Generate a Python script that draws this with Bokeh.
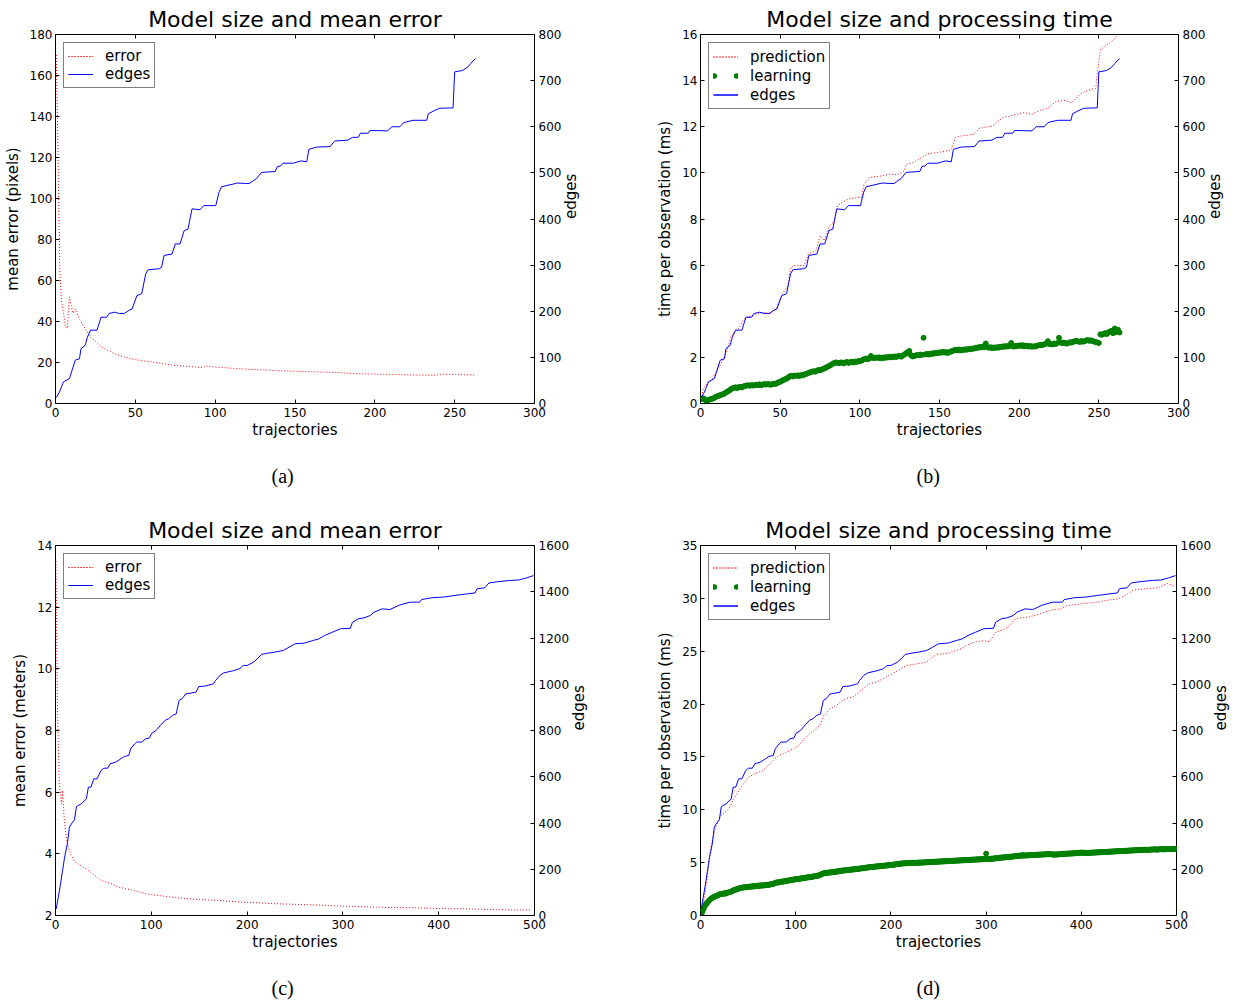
import math
from bokeh.plotting import figure
from bokeh.models import (Range1d, LinearAxis, SingleIntervalTicker, Legend,
                          LegendItem, Title)
from bokeh.layouts import column, row
from bokeh.embed import file_html
from bokeh.resources import INLINE

FONT = "DejaVu Sans"
RED, BLUE, GREEN = "#ff0000", "#0000ff", "#008000"

# ---------------- data ----------------
# (a)/(b): model size (edges) vs trajectories, first data set
edges_ab_x = [0.5, 2.5, 5, 8.7, 10, 12.4, 15, 16, 18.6, 20, 22, 26, 28.5, 32, 33.5, 37, 40, 43, 46, 48,
              51, 54, 56.5, 58, 64.5, 66.4, 68, 73, 75, 78, 80.6, 83, 85.5, 90.5, 91.7, 93, 100.4, 102.4,
              104, 106.6, 114, 119, 121.5, 126, 129, 137.6, 139, 141, 142.5, 149, 153.7, 157.4, 158.7,
              163.6, 172, 174.8, 183, 186, 189.6, 191, 196, 197, 208, 210.7, 215.7, 218, 224, 232.5,
              233.5, 236.7, 240.5, 249, 250, 255, 258, 260, 263]
edges_ab_y = [13, 25, 47, 54, 68, 94, 97, 119, 126, 144, 159, 159, 187, 187, 195, 198, 195, 195, 202, 205,
              234, 238, 281, 290, 292, 295, 321, 324, 346, 346, 375, 378, 422, 420, 425, 429, 429, 458,
              470, 472, 478, 477, 477, 488, 501, 503, 514, 515, 521, 521, 526, 524, 551,
              556, 557, 569, 571, 577, 577, 586, 586, 592, 591, 600, 600, 609, 614, 614,
              628, 634, 640, 641, 719, 722, 729, 737, 748]

error_a_x = [0.5, 1.2, 2, 2.7, 3.7, 5, 6.2, 7.4, 8.7, 10, 11, 12.4, 15, 18.6, 22, 27, 30, 37, 43, 50,
             59.5, 67, 74, 82, 92, 94, 100, 114, 126, 139, 151, 164, 176, 188, 201, 213, 225.6, 238,
             243, 253, 263]
error_a_y = [170, 139, 99, 66, 50, 44, 38, 36.5, 52, 47, 44, 46, 41, 36.5, 32.4, 29, 27, 24.3, 22.7, 21.4,
             20.3, 19.5, 18.6, 18.2, 17.5, 18.3, 17.8, 17.0, 16.5, 16.0, 15.7, 15.4, 15.1, 14.6, 14.3,
             14.1, 13.9, 13.8, 14.3, 14.1, 13.9]

pred_b_x = [0.5, 1.7, 4.2, 6.7, 10.5, 14, 16.7, 19, 21.7, 24, 26.6, 29, 34, 39, 44, 47.8, 51.5, 55, 56.5,
            59, 65, 67.7, 72.7, 75, 77.7, 81, 84, 86, 89, 92.6, 99, 101, 102.6, 106, 113.8, 118.8, 123.7,
            128, 129, 133.7, 138.7, 143.6, 148.6, 157, 160, 163.6, 172, 174.8, 183.5, 189.7, 194.7, 198,
            203, 208, 213, 218, 223, 228, 233, 238, 243, 248, 249.5, 251, 255.7, 259.4, 262]
pred_b_y = [0.07, 0.65, 0.86, 1.0, 1.44, 1.87, 2.3, 2.88, 3.17, 3.24, 3.6, 3.75, 3.82, 3.96, 3.89, 4.18,
            4.76, 5.12, 5.9, 5.98, 5.98, 6.49, 6.63, 7.28, 7.06, 7.7, 7.9, 8.58, 8.72, 8.86, 8.94, 8.94,
            9.51, 9.8, 9.87, 9.95, 9.92, 10.09, 10.38, 10.45, 10.67, 10.84, 10.88, 10.98, 11.53, 11.6,
            11.68, 11.93, 12.04, 12.4, 12.47, 12.54, 12.61, 12.54, 12.71, 12.8, 13.09, 13.15, 13.04,
            13.4, 13.58, 13.66, 14.56, 15.35, 15.57, 15.78, 16.0]

learn_b = [0.20, 0.22, 0.15, 0.12, 0.15, 0.18, 0.20, 0.22, 0.26, 0.30,
           0.32, 0.35, 0.38, 0.40, 0.43, 0.48, 0.52, 0.56, 0.62, 0.65,
           0.68, 0.70, 0.67, 0.71, 0.72, 0.70, 0.74, 0.76, 0.78, 0.79,
           0.77, 0.80, 0.78, 0.79, 0.81, 0.80, 0.83, 0.79, 0.82, 0.84,
           0.82, 0.85, 0.83, 0.81, 0.84, 0.86, 0.85, 0.88, 0.92, 0.94,
           0.98, 1.02, 1.05, 1.08, 1.12, 1.18, 1.20, 1.17, 1.21, 1.20,
           1.22, 1.19, 1.23, 1.22, 1.25, 1.28, 1.30, 1.33, 1.36, 1.38,
           1.40, 1.38, 1.42, 1.45, 1.44, 1.47, 1.50, 1.53, 1.57, 1.60,
           1.64, 1.68, 1.72, 1.76, 1.78, 1.76, 1.75, 1.78, 1.77, 1.74,
           1.78, 1.80, 1.76, 1.79, 1.81, 1.78, 1.82, 1.80, 1.84, 1.83,
           1.86, 1.90, 1.93, 1.95, 1.92, 1.96, 2.06, 1.98, 1.97, 1.99,
           1.98, 2.00, 1.96, 1.99, 1.97, 2.01, 1.99, 2.02, 2.00, 2.03,
           2.01, 2.04, 2.02, 2.05, 2.06, 2.03, 2.08, 2.12, 2.18, 2.22,
           2.28, 2.10, 2.04, 2.06, 2.08, 2.10, 2.09, 2.12, 2.11, 2.85,
           2.13, 2.15, 2.12, 2.16, 2.14, 2.18, 2.17, 2.20, 2.19, 2.22,
           2.20, 2.24, 2.21, 2.23, 2.19, 2.22, 2.25, 2.28, 2.30, 2.33,
           2.31, 2.34, 2.30, 2.33, 2.32, 2.35, 2.33, 2.36, 2.35, 2.38,
           2.37, 2.40, 2.42, 2.41, 2.45, 2.43, 2.46, 2.44, 2.60, 2.45,
           2.42, 2.44, 2.40, 2.43, 2.41, 2.44, 2.42, 2.46, 2.45, 2.48,
           2.46, 2.49, 2.47, 2.50, 2.62, 2.48, 2.47, 2.50, 2.49, 2.52,
           2.50, 2.53, 2.48, 2.51, 2.50, 2.47, 2.49, 2.46, 2.48, 2.47,
           2.50, 2.52, 2.54, 2.53, 2.55, 2.57, 2.60, 2.70, 2.58, 2.57,
           2.56, 2.60, 2.58, 2.62, 2.85, 2.65, 2.62, 2.64, 2.61, 2.60,
           2.63, 2.66, 2.64, 2.68, 2.70, 2.72, 2.69, 2.67, 2.71, 2.68,
           2.70, 2.73, 2.75, 2.72, 2.74, 2.71, 2.69, 2.66, 2.65, 2.62,
           3.00, 2.98, 3.02, 3.05, 3.01, 3.08, 3.12, 3.15, 3.05, 3.25, 3.10, 3.20, 3.08]

# (c)/(d): second data set
edges_cd_x = [0.8, 2.9, 5, 7.4, 9.5, 12.4, 14.5, 16.5, 19.8, 21.9, 26.9, 32.2, 34.3, 37, 40, 43.4, 47.5,
              50.4, 54.5, 57, 62.8, 68, 72, 76.4, 78.5, 82.6, 84.7, 90, 94, 98, 100.4, 105, 109.5, 115,
              117.8, 122, 126, 129, 132, 136, 140.5, 146.7, 149.6, 156, 165, 167, 171.5, 175.6, 186, 192,
              196, 200, 206.6, 210.7, 215, 221, 229, 237.6, 243.8, 250, 260, 268.6, 274.8, 281, 289,
              297.5, 307.8, 310, 316, 322, 328.5, 332.6, 341, 349, 359.5, 370, 380, 382, 392.5, 405, 417,
              430, 438, 440, 448, 452.5, 462.8, 475, 483.5, 491.7, 499]
edges_cd_y = [29, 79, 130, 195, 252, 310, 382, 396, 414, 471, 483, 504, 555, 555, 591, 591, 627, 637, 637,
              656, 663, 677, 688, 692, 721, 742, 750, 750, 764, 767, 788, 800, 822, 846, 850, 865, 872,
              930, 937, 958, 961, 966, 990, 992, 1002, 1016, 1038, 1049, 1059, 1067, 1081, 1081, 1095,
              1110, 1129, 1134, 1139, 1146, 1160, 1175, 1178, 1189, 1196, 1211, 1225, 1240, 1242, 1268,
              1283, 1287, 1297, 1312, 1326, 1323, 1343, 1355, 1355, 1366, 1374, 1377, 1384, 1391, 1395,
              1413, 1417, 1438, 1444, 1449, 1451, 1460, 1470]

error_c_x = [0.4, 1.2, 2, 3.3, 4.1, 5.4, 6.2, 7.4, 9, 10.3, 12.4, 15.7, 20.7, 29, 37, 47.5, 57.9, 66, 78.5,
             95, 107, 128, 149, 169, 190, 211, 231, 252, 273, 293, 314, 335, 355, 376, 397, 417, 438,
             459, 479, 496]
error_c_y = [13.5, 11.1, 8.76, 7.0, 6.16, 5.95, 5.62, 6.05, 5.19, 4.76, 4.32, 4.0, 3.73, 3.57, 3.4, 3.14,
             3.03, 2.92, 2.83, 2.7, 2.65, 2.57, 2.52, 2.49, 2.44, 2.41, 2.38, 2.36, 2.34, 2.31, 2.29,
             2.27, 2.26, 2.25, 2.23, 2.22, 2.21, 2.19, 2.18, 2.18]

pred_d_x = [0.8, 2.9, 5, 7, 9, 11, 13.3, 15.4, 18.7, 21.6, 25.7, 29.9, 34, 38, 42.3, 46.5, 50.6, 56.8, 65,
            71.4, 77.6, 81.7, 90, 98.3, 104.6, 110.8, 119, 125.3, 129.5, 135.7, 144, 152, 160.6, 169,
            177, 185.5, 193.8, 202, 210, 216.6, 227, 237, 243.6, 247.7, 260, 272.6, 285, 297.5, 303.7,
            310, 320, 326.6, 330.7, 343, 355.6, 368, 378, 384.6, 401, 413.7, 426, 438.6, 447, 455,
            467.6, 480, 490.5, 498.8]
pred_d_y = [0.3, 1.1, 2.4, 3.6, 5.2, 6.5, 7.4, 8.2, 9.0, 9.46, 9.78, 10.1, 10.9, 11.5, 12.1, 12.6, 13.1,
            13.4, 13.7, 14.2, 14.8, 15.1, 15.45, 15.8, 16.2, 16.9, 17.5, 18.0, 18.9, 19.5, 19.96, 20.5,
            20.7, 21.3, 21.9, 22.1, 22.5, 22.9, 23.3, 23.65, 23.8, 23.96, 24.4, 24.7, 24.8, 25.2, 25.8,
            26.0, 25.9, 26.8, 27.1, 27.6, 28.1, 28.2, 28.5, 28.9, 29.0, 29.3, 29.5, 29.6, 29.8, 29.96,
            30.3, 30.8, 30.9, 31.0, 31.4, 31.1]

learn_d = [0.15, 0.35, 0.6, 0.8, 1.0, 1.1, 1.2, 1.3, 1.42, 1.5,
           1.58, 1.65, 1.7, 1.75, 1.8, 1.82, 1.86, 1.9, 1.95, 2.0,
           2.02, 2.05, 2.03, 2.08, 2.1, 2.06, 2.12, 2.15, 2.18, 2.2,
           2.22, 2.25, 2.3, 2.35, 2.4, 2.42, 2.45, 2.48, 2.52, 2.55,
           2.57, 2.6, 2.62, 2.64, 2.65, 2.68, 2.66, 2.7, 2.69, 2.72,
           2.7, 2.73, 2.75, 2.72, 2.76, 2.78, 2.75, 2.8, 2.78, 2.82,
           2.8, 2.84, 2.82, 2.85, 2.83, 2.87, 2.85, 2.88, 2.9, 2.88,
           2.92, 2.9, 2.94, 2.96, 2.95, 2.98, 3.02, 3.05, 3.1, 3.12,
           3.14, 3.12, 3.16, 3.18, 3.2, 3.22, 3.2, 3.24, 3.26, 3.28,
           3.3, 3.28, 3.32, 3.35, 3.33, 3.37, 3.4, 3.38, 3.42, 3.45,
           3.44, 3.47, 3.45, 3.48, 3.5, 3.52, 3.5, 3.54, 3.56, 3.55,
           3.58, 3.6, 3.62, 3.6, 3.64, 3.66, 3.65, 3.68, 3.7, 3.72,
           3.74, 3.76, 3.75, 3.78, 3.82, 3.86, 3.9, 3.95, 3.98, 4.0,
           4.02, 4.04, 4.03, 4.06, 4.05, 4.08, 4.07, 4.1, 4.09, 4.12,
           4.14, 4.12, 4.16, 4.18, 4.17, 4.2, 4.22, 4.24, 4.23, 4.26,
           4.25, 4.28, 4.3, 4.28, 4.32, 4.3, 4.33, 4.35, 4.33, 4.36,
           4.38, 4.36, 4.4, 4.42, 4.4, 4.43, 4.42, 4.45, 4.47, 4.46,
           4.48, 4.5, 4.52, 4.5, 4.54, 4.56, 4.55, 4.58, 4.6, 4.58,
           4.6, 4.62, 4.6, 4.63, 4.65, 4.64, 4.66, 4.65, 4.68, 4.7,
           4.68, 4.71, 4.7, 4.73, 4.72, 4.75, 4.74, 4.77, 4.76, 4.79,
           4.78, 4.8, 4.82, 4.81, 4.84, 4.86, 4.85, 4.88, 4.9, 4.89,
           4.91, 4.93, 4.92, 4.94, 4.95, 4.93, 4.96, 4.98, 4.97, 4.99,
           4.98, 5.0, 4.97, 4.99, 4.96, 4.98, 5.0, 4.97, 5.01, 4.99,
           5.0, 5.02, 4.99, 5.03, 5.01, 5.04, 5.02, 5.05, 5.03, 5.06,
           5.04, 5.07, 5.05, 5.08, 5.06, 5.09, 5.07, 5.1, 5.08, 5.11,
           5.09, 5.12, 5.1, 5.13, 5.11, 5.14, 5.12, 5.15, 5.13, 5.16,
           5.14, 5.17, 5.15, 5.18, 5.16, 5.19, 5.17, 5.2, 5.18, 5.21,
           5.19, 5.22, 5.2, 5.23, 5.21, 5.24, 5.22, 5.25, 5.23, 5.26,
           5.24, 5.27, 5.25, 5.28, 5.26, 5.29, 5.27, 5.3, 5.28, 5.31,
           5.29, 5.32, 5.3, 5.33, 5.31, 5.34, 5.32, 5.35, 5.33, 5.85,
           5.34, 5.36, 5.33, 5.37, 5.35, 5.38, 5.36, 5.39, 5.41, 5.4,
           5.42, 5.44, 5.43, 5.46, 5.45, 5.48, 5.47, 5.5, 5.49, 5.52,
           5.5, 5.53, 5.52, 5.55, 5.54, 5.57, 5.56, 5.59, 5.58, 5.6,
           5.62, 5.6, 5.63, 5.65, 5.64, 5.66, 5.65, 5.72, 5.66, 5.68,
           5.67, 5.69, 5.68, 5.7, 5.69, 5.71, 5.7, 5.72, 5.71, 5.73,
           5.72, 5.74, 5.73, 5.75, 5.74, 5.76, 5.75, 5.77, 5.76, 5.78,
           5.77, 5.79, 5.8, 5.78, 5.81, 5.79, 5.82, 5.8, 5.78, 5.76,
           5.78, 5.75, 5.77, 5.79, 5.76, 5.78, 5.8, 5.82, 5.81, 5.83,
           5.82, 5.84, 5.83, 5.85, 5.84, 5.86, 5.85, 5.87, 5.86, 5.88,
           5.87, 5.89, 5.88, 5.9, 5.92, 5.91, 5.93, 5.92, 5.95, 5.94,
           5.93, 5.95, 5.92, 5.94, 5.91, 5.93, 5.9, 5.92, 5.94, 5.93,
           5.95, 5.94, 5.96, 5.95, 5.97, 5.96, 5.98, 5.97, 5.99, 5.98,
           6.0, 5.99, 6.01, 6.0, 6.02, 6.01, 6.03, 6.02, 6.04, 6.03,
           6.05, 6.04, 6.06, 6.05, 6.07, 6.06, 6.08, 6.07, 6.09, 6.08,
           6.1, 6.09, 6.11, 6.1, 6.12, 6.11, 6.13, 6.12, 6.14, 6.13,
           6.15, 6.14, 6.16, 6.15, 6.17, 6.16, 6.18, 6.17, 6.19, 6.18,
           6.2, 6.19, 6.21, 6.2, 6.22, 6.21, 6.23, 6.22, 6.2, 6.21,
           6.23, 6.22, 6.24, 6.23, 6.25, 6.24, 6.26, 6.25, 6.23, 6.24,
           6.26, 6.25, 6.27, 6.26, 6.28, 6.27, 6.25, 6.26, 6.28, 6.27,
           6.29, 6.28, 6.3, 6.29, 6.27, 6.28, 6.3, 6.29, 6.31, 6.3]

traj_b = list(range(1, len(learn_b) + 1))
traj_d = list(range(1, len(learn_d) + 1))


# ---------------- helpers ----------------
def style_axis(ax, standoff, label_standoff):
    ax.major_label_text_font = FONT
    ax.major_label_text_font_size = "12px"
    ax.major_label_text_color = "black"
    ax.major_tick_in = 4
    ax.major_tick_out = 0
    ax.major_tick_line_color = "black"
    ax.major_tick_line_width = 1
    ax.minor_tick_line_color = None
    ax.axis_line_color = None
    ax.major_label_standoff = standoff
    ax.axis_label_text_font = FONT
    ax.axis_label_text_font_size = "15px"
    ax.axis_label_text_font_style = "normal"
    ax.axis_label_text_color = "black"
    ax.axis_label_standoff = label_standoff


def make_panel(title, caption, width, height, bl, br, bt, bb, xmax, xstep,
               ylo, yhi, ystep, ymax2, ystep2, ylabel, cap_gap):
    p = figure(width=width, height=height, output_backend="svg", toolbar_location=None,
               x_range=Range1d(0, xmax), y_range=Range1d(ylo, yhi),
               min_border_left=bl, min_border_right=br, min_border_top=bt,
               min_border_bottom=bb, x_axis_label="trajectories", y_axis_label=ylabel)
    p.extra_y_ranges = {"edges": Range1d(0, ymax2)}
    p.xgrid.visible = False
    p.ygrid.visible = False
    p.outline_line_color = "black"
    p.outline_line_width = 1
    p.outline_line_alpha = 1
    p.background_fill_color = "white"
    p.border_fill_color = "white"

    p.xaxis.ticker = SingleIntervalTicker(interval=xstep, num_minor_ticks=0)
    p.yaxis.ticker = SingleIntervalTicker(interval=ystep, num_minor_ticks=0)
    style_axis(p.xaxis[0], 4, 1)
    style_axis(p.yaxis[0], 3, 5)

    # top spine ticks only (labels not drawn)
    top = LinearAxis(ticker=SingleIntervalTicker(interval=xstep, num_minor_ticks=0))
    style_axis(top, 0, 0)
    top.major_label_text_font_size = "1px"
    top.major_label_text_color = None
    p.add_layout(top, "above")

    right = LinearAxis(y_range_name="edges", axis_label="edges",
                       ticker=SingleIntervalTicker(interval=ystep2, num_minor_ticks=0))
    style_axis(right, 4, 7)
    try:
        right.axis_label_orientation = math.pi / 2
    except Exception:
        pass
    p.add_layout(right, "right")

    p.title.text = title
    p.title.text_font = FONT
    p.title.text_font_size = "22px"
    p.title.text_font_style = "normal"
    p.title.text_color = "black"
    p.title.align = "center"
    p.title.standoff = 5

    cap = Title(text=caption, align="left", text_font="Liberation Serif",
                text_font_size="20px", text_font_style="normal", text_color="black",
                offset=216, standoff=0)
    try:
        cap.padding = {"left": 0, "right": 0, "top": cap_gap, "bottom": 0}
    except Exception:
        try:
            cap.padding = (0, 0, cap_gap, 0)
        except Exception:
            cap.standoff = 2 * cap_gap
    p.add_layout(cap, "below")
    return p


def make_legend(items, label_h):
    leg = Legend(items=items, location="top_left", margin=8, padding=4, spacing=0,
                 glyph_width=25, glyph_height=label_h, label_height=label_h,
                 label_standoff=12, border_line_color="black", border_line_width=1,
                 background_fill_color="white", background_fill_alpha=1,
                 label_text_font=FONT, label_text_font_size="15px",
                 label_text_color="black")
    try:
        leg.level = "overlay"
    except Exception:
        pass
    return leg


def legend_lines(p, xs, ys, color, dash="solid", width=1, cap="butt", rng="default"):
    # hidden multi-line renderers used only to draw a legend sample
    return [p.multi_line([xs], [ys], line_color=color, line_width=width, line_dash=dash,
                         line_cap=cap, visible=False, y_range_name=rng) for _ in range(2)]


WA, WB = 621, 621
H1, H2 = 508, 493

# (a)
pa = make_panel("Model size and mean error", "(a)", WA, H1, 55, 87, 34, 105, 300, 50,
                0, 180, 20, 800, 100, "mean error (pixels)", 21)
pa.line(error_a_x, error_a_y, line_color=RED, line_width=1, line_dash="1 2")
pa.line(edges_ab_x, edges_ab_y, line_color=BLUE, line_width=1, y_range_name="edges")
pa.add_layout(make_legend([
    LegendItem(label="error", renderers=legend_lines(pa, error_a_x, error_a_y, RED, "1 2")),
    LegendItem(label="edges", renderers=legend_lines(pa, edges_ab_x, edges_ab_y, BLUE, rng="edges"))], 14))

# (b)
pb = make_panel("Model size and processing time", "(b)", WB, H1, 79, 64, 34, 105, 300, 50,
                0, 16, 2, 800, 100, "time per observation (ms)", 21)
pb.line(pred_b_x, pred_b_y, line_color=RED, line_width=1, line_dash="1 2")
pb.scatter(traj_b, learn_b, size=5, fill_color=GREEN, line_color=GREEN)
pb.line(edges_ab_x, edges_ab_y, line_color=BLUE, line_width=1, y_range_name="edges")
pb.add_layout(make_legend([
    LegendItem(label="prediction", renderers=legend_lines(pb, pred_b_x, pred_b_y, RED, "1 2")),
    LegendItem(label="learning", renderers=legend_lines(pb, traj_b, learn_b, GREEN, "1 22", 5, "round")),
    LegendItem(label="edges", renderers=legend_lines(pb, edges_ab_x, edges_ab_y, BLUE, rng="edges"))], 19))

# (c)
pc = make_panel("Model size and mean error", "(c)", WA, H2, 55, 87, 37, 86, 500, 100,
                2, 14, 2, 1600, 200, "mean error (meters)", 21)
pc.line(error_c_x, error_c_y, line_color=RED, line_width=1, line_dash="1 2")
pc.line(edges_cd_x, edges_cd_y, line_color=BLUE, line_width=1, y_range_name="edges")
pc.add_layout(make_legend([
    LegendItem(label="error", renderers=legend_lines(pc, error_c_x, error_c_y, RED, "1 2")),
    LegendItem(label="edges", renderers=legend_lines(pc, edges_cd_x, edges_cd_y, BLUE, rng="edges"))], 14))

# (d)
pd_ = make_panel("Model size and processing time", "(d)", WB, H2, 79, 64, 37, 86, 500, 100,
                 0, 35, 5, 1600, 200, "time per observation (ms)", 21)
pd_.line(pred_d_x, pred_d_y, line_color=RED, line_width=1, line_dash="1 2")
pd_.scatter(traj_d, learn_d, size=5, fill_color=GREEN, line_color=GREEN)
pd_.line(edges_cd_x, edges_cd_y, line_color=BLUE, line_width=1, y_range_name="edges")
pd_.add_layout(make_legend([
    LegendItem(label="prediction", renderers=legend_lines(pd_, pred_d_x, pred_d_y, RED, "1 2")),
    LegendItem(label="learning", renderers=legend_lines(pd_, traj_d, learn_d, GREEN, "1 22", 5, "round")),
    LegendItem(label="edges", renderers=legend_lines(pd_, edges_cd_x, edges_cd_y, BLUE, rng="edges"))], 19))

layout = column(row(pa, pb), row(pc, pd_))
open("out.html", "w").write(file_html(layout, INLINE))
